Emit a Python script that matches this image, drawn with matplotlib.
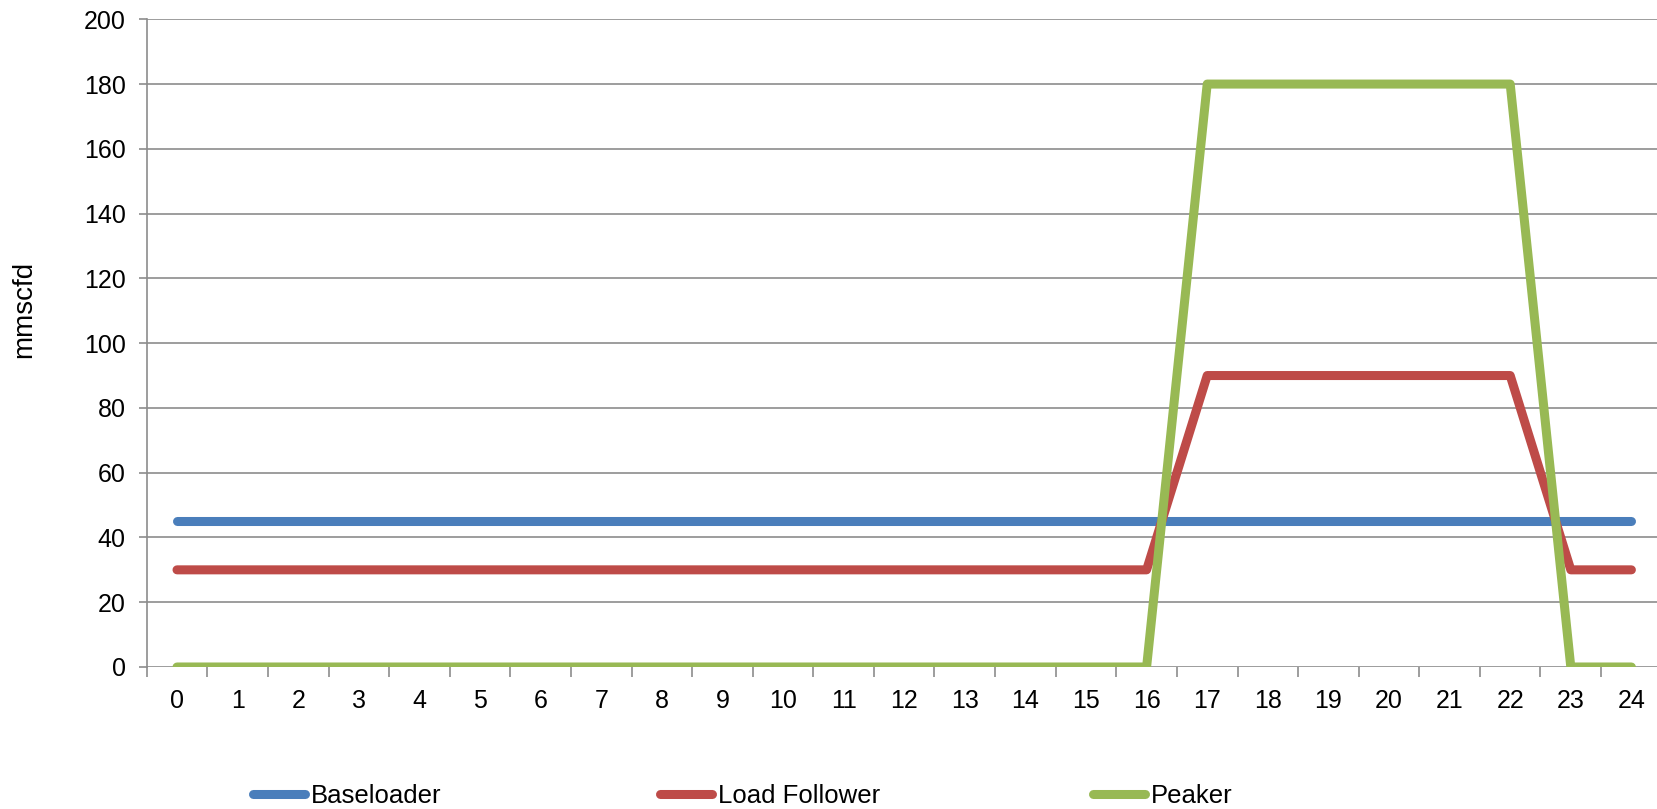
import matplotlib
matplotlib.use("Agg")
import matplotlib.pyplot as plt
import numpy as np

plt.rcParams['font.family'] = ['Liberation Sans', 'DejaVu Sans']

hours = list(range(25))
baseloader = [45] * 25
load_follower = [30] * 17 + [90] * 6 + [30] * 2
peaker = [0] * 17 + [180] * 6 + [0] * 2

series = [
    ("Baseloader", baseloader, "#4A7EBB"),
    ("Load Follower", load_follower, "#BE4B48"),
    ("Peaker", peaker, "#98B954"),
]

W, H = 1658, 809
fig = plt.figure(figsize=(W / 100, H / 100), dpi=100)
ax_left, ax_bottom = 146.7 / W, 1 - 667 / H
ax_w, ax_h = 1515 / W, (667 - 19.3) / H
ax = fig.add_axes([ax_left, ax_bottom, ax_w, ax_h])

grid_color = "#8C8C8C"
fs = 18
lw = 6.5

lines = []
for name, vals, col in series:
    ln, = ax.plot(hours, vals, color=col, lw=lw, label=name,
                  solid_capstyle='round', solid_joinstyle='round', zorder=3)
    lines.append(ln)

ax.set_xlim(-0.5, 24.5)
ax.set_ylim(0, 200)
ax.set_yticks(np.arange(0, 201, 20))
ax.set_xticks(hours)
ax.set_xticks(np.arange(-0.5, 24.6, 1), minor=True)
ax.set_xticklabels([str(h) for h in hours])

ax.yaxis.grid(True, color=grid_color, lw=1.2)
ax.set_axisbelow(True)
for s in ['top', 'right', 'bottom']:
    ax.spines[s].set_visible(False)
ax.spines['left'].set_color(grid_color)
ax.spines['left'].set_linewidth(1.2)

ax.tick_params(axis='y', which='major', length=5.6, width=1.2, color=grid_color,
               labelsize=fs, pad=9.5)
ax.tick_params(axis='x', which='major', length=0, labelsize=fs, pad=16)
ax.tick_params(axis='x', which='minor', length=7, width=1.2, color=grid_color,
               direction='out')

ax.set_ylabel("mmscfd", fontsize=20)
ax.yaxis.set_label_coords(37 / W, 1 - 309 / H, transform=fig.transFigure)

for ln, x0 in zip(lines, [253.5, 660.5, 1093.5]):
    fig.legend(handles=[ln], loc='center left',
               bbox_to_anchor=(x0 / W, 1 - 796 / H),
               frameon=False, fontsize=18.5, handlelength=2.0,
               handletextpad=0.25, borderpad=0, borderaxespad=0)

fig.savefig("out.png", dpi=100)
